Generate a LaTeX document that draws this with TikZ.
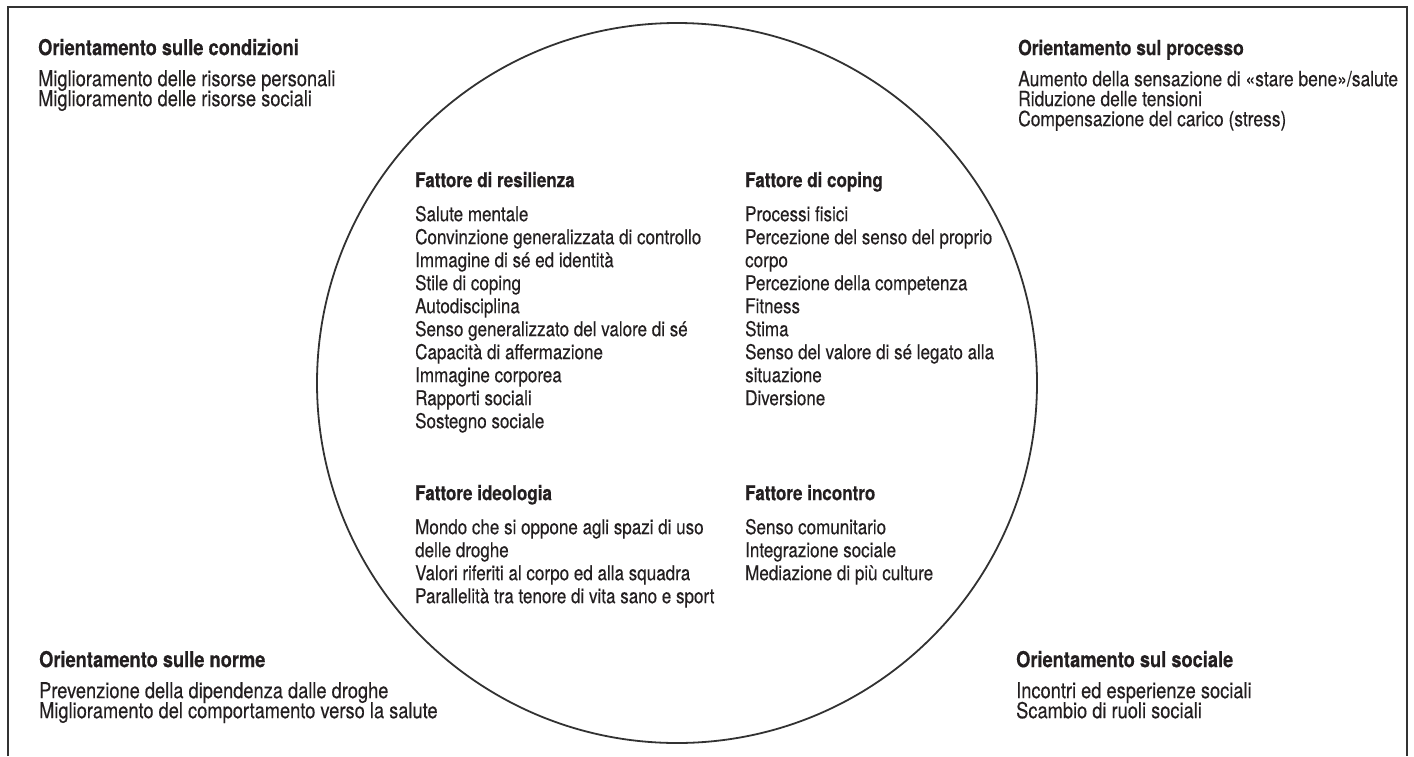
\documentclass[tikz,border=0pt]{standalone}
\usepackage{fontspec}
\setmainfont{TeX Gyre Heros}[FakeStretch=0.83, FakeBold=0.3]
\usetikzlibrary{
  matrix, % for the text blocks
}
\definecolor{ink}{RGB}{35, 31, 32}
\definecolor{rule-grey}{RGB}{50, 50, 50}
\newcommand{\cornertext}{\fontsize{22}{20}\selectfont}
\newcommand{\narrowtext}{\fontsize{21}{20}\selectfont}
\newcommand{\circletext}{\fontsize{20.5}{20}\selectfont}

\begin{document}
\begin{tikzpicture}[x=1pt, y=-1pt, text=ink,
    listing/.style={%
      matrix of nodes,%
      anchor=north west,%
      inner sep=0pt,%
      nodes={anchor=base west, inner sep=0pt, font=\cornertext,%
        text height=14.5pt, text depth=5.5pt},%
      row sep=0pt,%
      heading/.style={font=\cornertext\bfseries},%
    },
    narrowlisting/.style={listing, nodes={font=\narrowtext},% long lines near the frame
      heading/.style={font=\narrowtext\bfseries}},
    inlisting/.style={listing, row sep=3pt,% lines inside the circle sit a bit wider
      nodes={font=\circletext}, heading/.style={font=\circletext\bfseries}},
  ]
  \useasboundingbox (0,0) rectangle (1414,756);

  % open frame and the circle
  \draw[rule-grey, line width=1.8pt] (8,756) |- (1407,7) -- (1407,756);
  \node[draw=rule-grey, line width=1.8pt, circle, minimum size=720pt, inner sep=0pt]
    (fattori) at (677,383) {};

  % the four orientations in the corners
  \matrix [listing] (condizioni) at (38,40.5)
  {
    |[heading]| Orientamento sulle condizioni \\[11pt]
    Miglioramento delle risorse personali \\
    Miglioramento delle risorse sociali \\
  };
  \matrix [narrowlisting] (processo) at (1018,40.5)
  {
    |[heading]| Orientamento sul processo \\[11pt]
    Aumento della sensazione di «stare bene»/salute \\
    Riduzione delle tensioni \\
    Compensazione del carico (stress) \\
  };
  \matrix [listing] (norme) at (39,652.5)
  {
    |[heading]| Orientamento sulle norme \\[11pt]
    Prevenzione della dipendenza dalle droghe \\
    Miglioramento del comportamento verso la salute \\
  };
  \matrix [listing] (sociale) at (1016,652.5)
  {
    |[heading]| Orientamento sul sociale \\[11pt]
    Incontri ed esperienze sociali \\
    Scambio di ruoli sociali \\
  };

  % the four factors inside the circle
  \matrix [inlisting] (resilienza) at (415,172.5)
  {
    |[heading]| Fattore di resilienza \\[11pt]
    Salute mentale \\
    Convinzione generalizzata di controllo \\
    Immagine di sé ed identità \\
    Stile di coping \\
    Autodisciplina \\
    Senso generalizzato del valore di sé \\
    Capacità di affermazione \\
    Immagine corporea \\
    Rapporti sociali \\
    Sostegno sociale \\
  };
  \matrix [inlisting] (coping) at (745,172.5)
  {
    |[heading]| Fattore di coping \\[11pt]
    Processi fisici \\
    Percezione del senso del proprio \\
    corpo \\
    Percezione della competenza \\
    Fitness \\
    Stima \\
    Senso del valore di sé legato alla \\
    situazione \\
    Diversione \\
  };
  \matrix [inlisting] (ideologia) at (415,485.5)
  {
    |[heading]| Fattore ideologia \\[11pt]
    Mondo che si oppone agli spazi di uso \\
    delle droghe \\
    Valori riferiti al corpo ed alla squadra \\
    Parallelità tra tenore di vita sano e sport \\
  };
  \matrix [inlisting] (incontro) at (745,485.5)
  {
    |[heading]| Fattore incontro \\[11pt]
    Senso comunitario \\
    Integrazione sociale \\
    Mediazione di più culture \\
  };
\end{tikzpicture}
\end{document}
